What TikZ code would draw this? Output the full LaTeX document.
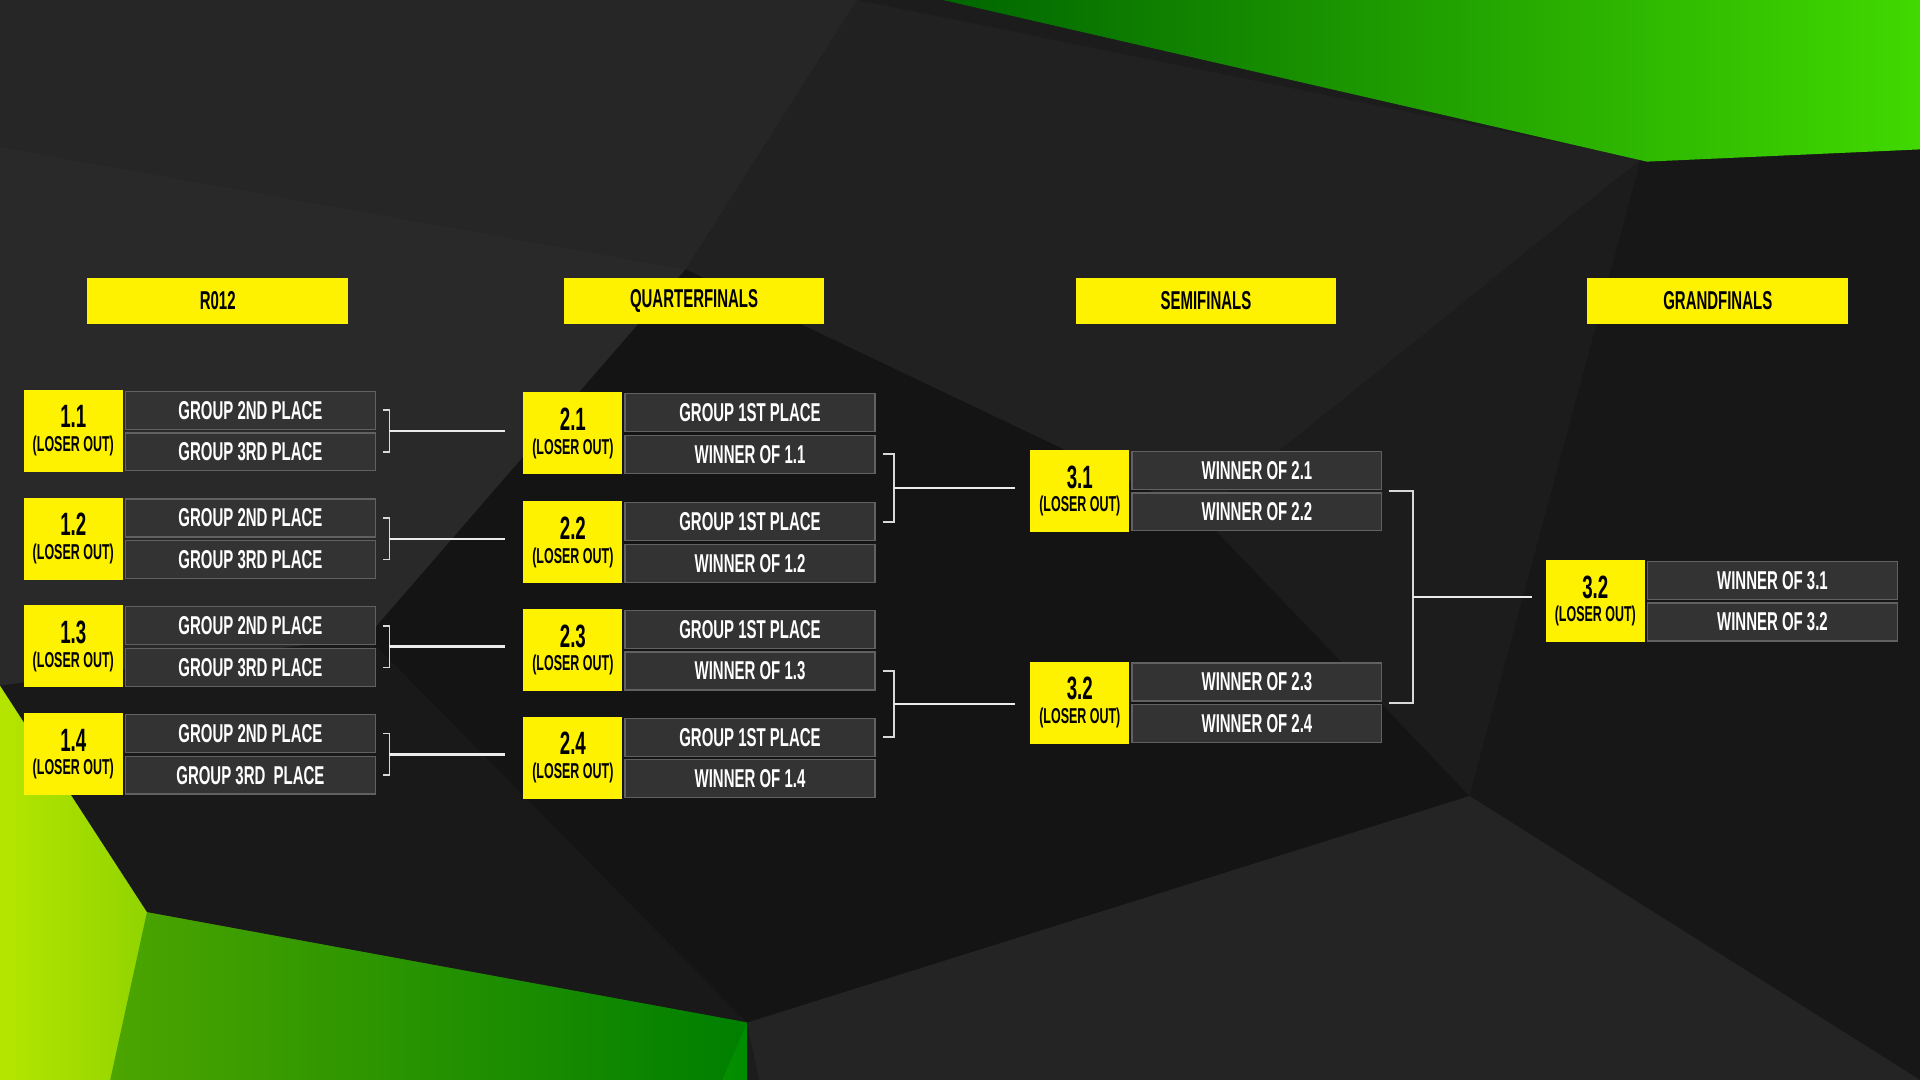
\documentclass[tikz,border=0pt]{standalone}
\usepackage{fontspec}
\usetikzlibrary{calc}
\newfontfamily\bfont{Liberation Sans}[FakeStretch=0.58]
\begin{document}
\begin{tikzpicture}[x=0.02cm,y=-0.02cm,
  yel/.style={draw=none, inner sep=0, text=black, font=\bfont\bfseries\fontsize{12}{12}\selectfont, align=center},
  row/.style={fill=black!80, draw=black!62, line width=0.6pt, inner sep=0, text=white, font=\bfont\bfseries\fontsize{12}{12}\selectfont},
  conn/.style={draw=white!92!black, line width=1.2pt},
  brk/.style={draw=white!85!black, line width=0.8pt}]
\definecolor{yl}{RGB}{255,242,0}
\tikzset{yel/.append style={fill=yl}}
% background
\fill[black!89] (0,0) rectangle (1568,882);
\fill[black!85] (0,0) -- (700,0) -- (560,220) -- (0,120) -- cycle;
\fill[black!87] (700,0) -- (1340,130) -- (980,420) -- (560,220) -- cycle;
\fill[black!91] (1340,130) -- (1568,120) -- (1568,882) -- (1200,650) -- cycle;
\fill[black!84] (0,120) -- (560,220) -- (300,520) -- (0,560) -- cycle;
\fill[black!90] (300,520) -- (610,835) -- (120,745) -- (0,560) -- cycle;
\fill[black!86] (610,835) -- (1200,650) -- (1568,882) -- (620,882) -- cycle;
\fill[black!92] (560,220) -- (980,420) -- (1200,650) -- (610,835) -- (300,520) -- cycle;
\shade[left color=green!40!black, right color=green!60!lime!85!black] (770,0) -- (1568,0) -- (1568,122) -- (1345,132) -- cycle;
\shade[left color=lime!85!yellow!90!black, right color=green!55!black] (0,560) -- (120,745) -- (610,835) -- (610,882) -- (0,882) -- cycle;
\fill[green!45!black,opacity=0.5] (120,745) -- (610,835) -- (590,882) -- (90,882) -- cycle;
% headers
\foreach \n/\t/\x in {h1/R012/71, h2/QUARTERFINALS/460, h3/SEMIFINALS/878, h4/GRANDFINALS/1296}
  \node[yel, minimum width=4.26cm, minimum height=0.74cm, anchor=north west] (\n) at (\x,227) {\t};
\newcommand\bmatch[6]{%
  \node[yel, minimum width=1.62cm, minimum height=1.34cm, anchor=north west] (#1y) at (#2,#3) {\fontsize{15}{15}\selectfont #4\\[-1pt]{\fontsize{10}{10}\selectfont (LOSER OUT)}};
  \node[row, minimum width=4.08cm, minimum height=0.62cm, anchor=north west] (#1t) at (#2+83,#3+1) {#5};
  \node[row, minimum width=4.08cm, minimum height=0.62cm, anchor=north west] (#1b) at (#2+83,#3+35) {#6};}
\bmatch{a}{19}{318}{1.1}{GROUP 2ND PLACE}{GROUP 3RD PLACE}
\bmatch{b}{19}{406}{1.2}{GROUP 2ND PLACE}{GROUP 3RD PLACE}
\bmatch{c}{19}{494}{1.3}{GROUP 2ND PLACE}{GROUP 3RD PLACE}
\bmatch{d}{19}{582}{1.4}{GROUP 2ND PLACE}{GROUP 3RD\ \ PLACE}
\bmatch{e}{427}{320}{2.1}{GROUP 1ST PLACE}{WINNER OF 1.1}
\bmatch{f}{427}{409}{2.2}{GROUP 1ST PLACE}{WINNER OF 1.2}
\bmatch{g}{427}{497}{2.3}{GROUP 1ST PLACE}{WINNER OF 1.3}
\bmatch{h}{427}{585}{2.4}{GROUP 1ST PLACE}{WINNER OF 1.4}
\bmatch{i}{841}{367}{3.1}{WINNER OF 2.1}{WINNER OF 2.2}
\bmatch{j}{841}{540}{3.2}{WINNER OF 2.3}{WINNER OF 2.4}
\bmatch{k}{1262}{457}{3.2}{WINNER OF 3.1}{WINNER OF 3.2}
% R1 -> QF connectors
\foreach \m/\q in {a/e,b/f,c/g,d/h}{
  \draw[brk] ([xshift=0.12cm]\m t.east) -| ([xshift=0.22cm]\m b.east) -- ([xshift=0.12cm]\m b.east);
  \coordinate (\m m) at ([xshift=0.22cm]$(\m t.east)!0.5!(\m b.east)$);
  \draw[conn] (\m m) -- ([xshift=-0.3cm]\m m -| \q y.west);
}
% QF -> SF
\draw[brk] ([xshift=0.12cm]eb.east) -| ([xshift=0.3cm]ft.east) -- ([xshift=0.12cm]ft.east);
\coordinate (ef) at ([xshift=0.3cm]$(eb.east)!0.5!(ft.east)$);
\draw[conn] (ef) -- ([xshift=-0.24cm]ef -| iy.west);
\draw[brk] ([xshift=0.12cm]gb.east) -| ([xshift=0.3cm]ht.east) -- ([xshift=0.12cm]ht.east);
\coordinate (gh) at ([xshift=0.3cm]$(gb.east)!0.5!(ht.east)$);
\draw[conn] (gh) -- ([xshift=-0.24cm]gh -| jy.west);
% SF -> GF
\coordinate (s1) at ([xshift=0.5cm]$(it.east)!0.5!(ib.east)$);
\coordinate (s2) at ([xshift=0.5cm]$(jt.east)!0.5!(jb.east)$);
\draw[brk,line width=1.2pt] ([xshift=0.1cm]s1 -| ib.east) -- (s1) -- (s2) -- ([xshift=0.1cm]s2 -| jb.east);
\coordinate (sm) at ($(s1)!0.5!(s2)$);
\draw[conn] (sm) -- ([xshift=-0.22cm]sm -| ky.west);
\end{tikzpicture}
\end{document}
